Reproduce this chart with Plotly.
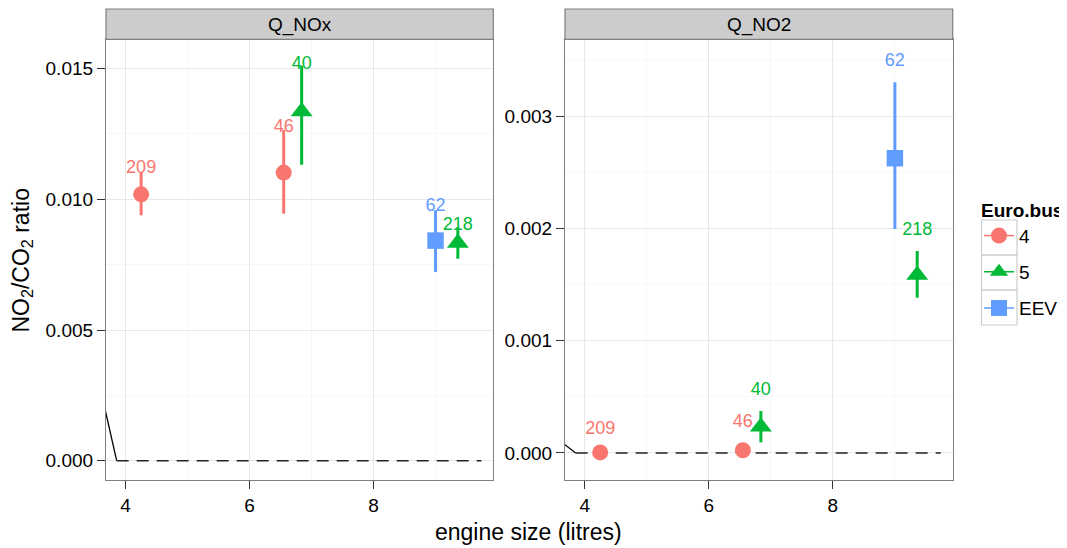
import plotly.graph_objects as go

# page body has an 8px margin: figure sits at (8, 8) in the 1067x548 window
OFF = 8
W, H = 1067 - OFF, 548 - OFF

# ---------------- data ----------------
panels = ["Q_NOx", "Q_NO2"]
euro_bus = ["4", "4", "5", "EEV", "5"]
n_buses = ["209", "46", "40", "62", "218"]
engine_size = [4.25, 6.55, 6.84, 9.0, 9.36]

nox_mean = [0.01019, 0.01102, 0.01336, 0.00842, 0.00833]
nox_low = [0.00939, 0.00945, 0.01132, 0.00722, 0.00773]
nox_high = [0.01104, 0.01266, 0.01510, 0.00958, 0.00894]
nox_label_y = [0.01117, 0.01276, 0.01516, 0.00974, 0.00899]

no2_mean = [0.000005, 0.000024, 0.000234, 0.002627, 0.001586]
no2_low = [0.0, 0.0, 0.000095, 0.001996, 0.001384]
no2_high = [0.00001, 0.00005, 0.000374, 0.003304, 0.00180]
no2_label_y = [0.000205, 0.00027, 0.000555, 0.003487, 0.001987]

# reference line (solid part then dashed zero line)
ref_solid_x = [3.5, 3.855]
nox_ref_solid_y = [0.00373, 0.0]
no2_ref_solid_y = [0.00015, 0.0]
ref_dash_x = [3.855, 9.74]
ref_dash_y = [0.0, 0.0]

groups = ["4", "5", "EEV"]
colors = {"4": "#F8766D", "5": "#00BA38", "EEV": "#619CFF"}
symbols = {"4": "circle", "5": "triangle-up", "EEV": "square"}
sizes = {"4": 16, "5": 19, "EEV": 16.5}

FONT = "Liberation Sans, Arial, sans-serif"

fig = go.Figure()

panel_data = [
    ("x", "y", nox_mean, nox_low, nox_high, nox_label_y, nox_ref_solid_y),
    ("x2", "y2", no2_mean, no2_low, no2_high, no2_label_y, no2_ref_solid_y),
]

for xa, ya, mean, low, high, laby, solid_y in panel_data:
    fig.add_trace(go.Scatter(x=ref_solid_x, y=solid_y, mode="lines", xaxis=xa, yaxis=ya,
                             line=dict(color="black", width=1.3), showlegend=False, hoverinfo="skip"))
    fig.add_trace(go.Scatter(x=ref_dash_x, y=ref_dash_y, mode="lines", xaxis=xa, yaxis=ya,
                             line=dict(color="#222222", width=1.4, dash="12px,8px"),
                             showlegend=False, hoverinfo="skip"))
    for g in groups:
        idx = [i for i, e in enumerate(euro_bus) if e == g]
        fig.add_trace(go.Scatter(
            x=[engine_size[i] for i in idx],
            y=[mean[i] for i in idx],
            mode="markers", xaxis=xa, yaxis=ya,
            marker=dict(color=colors[g], symbol=symbols[g], size=sizes[g], line=dict(width=0)),
            error_y=dict(type="data", symmetric=False,
                         array=[high[i] - mean[i] for i in idx],
                         arrayminus=[mean[i] - low[i] for i in idx],
                         width=0, thickness=3, color=colors[g]),
            showlegend=False, name=g, cliponaxis=False))
    fig.add_trace(go.Scatter(
        x=engine_size, y=laby, mode="text", text=n_buses, xaxis=xa, yaxis=ya,
        textposition="middle center",
        textfont=dict(family=FONT, size=18, color=[colors[e] for e in euro_bus]),
        showlegend=False, hoverinfo="skip", cliponaxis=False))

# legend entries
for k, g in enumerate(groups):
    fig.add_trace(go.Scatter(
        x=[None], y=[None], mode="lines+markers", name=g, legendgroup=g,
        marker=dict(color=colors[g], symbol=symbols[g], size=sizes[g]),
        line=dict(color=colors[g], width=1.5), xaxis="x2", yaxis="y2"))


def px2x(px):
    return (px - OFF) / W


def px2y(py):
    return 1 - (py - OFF) / H


ydom = [px2y(480), px2y(39.3)]
axis_common = dict(
    showline=True, mirror=True, linecolor="#7F7F7F", linewidth=1.2,
    ticks="outside", ticklen=8, tickwidth=1, tickcolor="#333333",
    showgrid=True, gridcolor="#E8E8E8", gridwidth=1.2, zeroline=False,
    tickfont=dict(family=FONT, size=19, color="black"), automargin=False,
)

fig.update_layout(
    width=W, height=H, template="none",
    margin=dict(l=0, r=0, t=0, b=0),
    paper_bgcolor="white", plot_bgcolor="white",
    font=dict(family=FONT, color="black"),
    xaxis=dict(domain=[px2x(106), px2x(493.3)], range=[3.683, 9.932], dtick=2, tick0=0,
               anchor="y", minor=dict(dtick=1, tick0=0, showgrid=True, gridcolor="#F7F7F7", gridwidth=1.2),
               **axis_common),
    yaxis=dict(domain=ydom, range=[-0.000738, 0.01612], dtick=0.005, tick0=0, tickformat=".3f",
               anchor="x", minor=dict(dtick=0.0025, tick0=0, showgrid=True, gridcolor="#F7F7F7", gridwidth=1.2),
               **axis_common),
    xaxis2=dict(domain=[px2x(565), px2x(952.7)], range=[3.683, 9.932], dtick=2, tick0=0,
                anchor="y2", minor=dict(dtick=1, tick0=0, showgrid=True, gridcolor="#F7F7F7", gridwidth=1.2),
                **axis_common),
    yaxis2=dict(domain=ydom, range=[-0.000241, 0.003687], dtick=0.001, tick0=0, tickformat=".3f",
                anchor="x2", minor=dict(dtick=0.0005, tick0=0, showgrid=True, gridcolor="#F7F7F7", gridwidth=1.2),
                **axis_common),
    legend=dict(x=px2x(979), y=px2y(192), xanchor="left", yanchor="top",
                bgcolor="rgba(0,0,0,0)", borderwidth=0,
                title=dict(text="<b>Euro.bus</b>", font=dict(family=FONT, size=19)),
                font=dict(family=FONT, size=19), tracegroupgap=8.5, itemwidth=30),
)

shapes = []
annotations = []
# strips
for (x0, x1), label in zip([(106, 493.3), (565, 952.7)], panels):
    shapes.append(dict(type="rect", xref="paper", yref="paper",
                       x0=px2x(x0), x1=px2x(x1), y0=px2y(39.3), y1=px2y(9),
                       fillcolor="#CCCCCC", line=dict(color="#7F7F7F", width=1.2), layer="above"))
    annotations.append(dict(text=label, xref="paper", yref="paper", x=px2x((x0 + x1) / 2),
                            y=px2y(24.5), showarrow=False, xanchor="center", yanchor="middle",
                            font=dict(family=FONT, size=19, color="black")))
# legend key boxes
for k in range(3):
    shapes.append(dict(type="rect", xref="paper", yref="paper",
                       x0=px2x(981.5), x1=px2x(1017), y0=px2y(220 + 35 * (k + 1)), y1=px2y(220 + 35 * k),
                       fillcolor="rgba(0,0,0,0)", line=dict(color="#CCCCCC", width=1.2), layer="above"))

annotations.append(dict(text="engine size (litres)", xref="paper", yref="paper",
                        x=px2x(528), y=px2y(532), showarrow=False, xanchor="center", yanchor="middle",
                        font=dict(family=FONT, size=23, color="black")))
annotations.append(dict(text="NO<sub>2</sub>/CO<sub>2</sub> ratio", xref="paper", yref="paper",
                        x=px2x(22), y=px2y(260.5), showarrow=False, xanchor="center", yanchor="middle",
                        textangle=-90, font=dict(family=FONT, size=23, color="black")))

fig.update_layout(shapes=shapes, annotations=annotations)
fig.write_html("out.html")
